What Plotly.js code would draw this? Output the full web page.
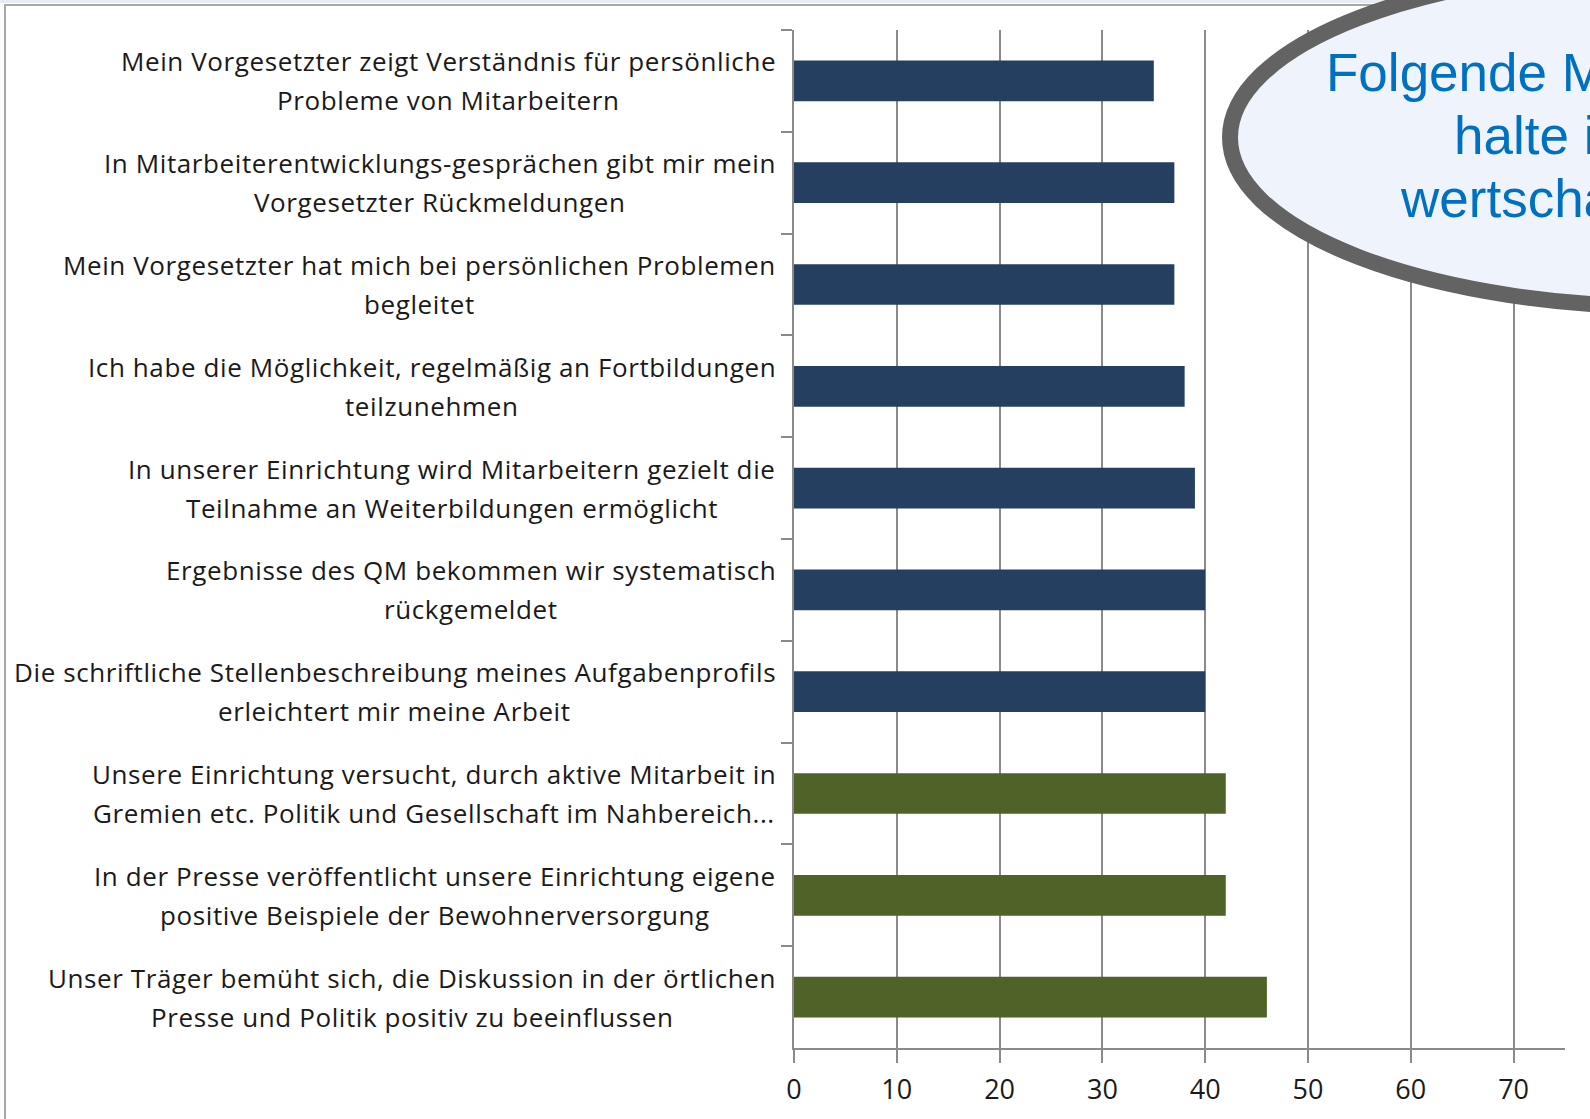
<!DOCTYPE html>
<html><head><meta charset="utf-8">
<script src="https://cdn.plot.ly/plotly-3.0.1.min.js"></script>
<style>html,body{margin:0;padding:0;overflow:hidden;background:#fff}#chart{width:1590px;height:1119px}</style>
</head><body><div id="chart"></div>
<script>
// ---- data ----
const labelLine1 = [
  "Mein Vorgesetzter zeigt Verständnis für persönliche",
  "In Mitarbeiterentwicklungs-gesprächen gibt mir mein",
  "Mein Vorgesetzter hat mich bei persönlichen Problemen",
  "Ich habe die Möglichkeit, regelmäßig an Fortbildungen",
  "In unserer Einrichtung wird Mitarbeitern gezielt die",
  "Ergebnisse des QM bekommen wir systematisch",
  "Die schriftliche Stellenbeschreibung meines Aufgabenprofils",
  "Unsere Einrichtung versucht, durch aktive Mitarbeit in",
  "In der Presse veröffentlicht unsere Einrichtung eigene",
  "Unser Träger bemüht sich, die Diskussion in der örtlichen"
];
const labelLine2 = [
  "Probleme von Mitarbeitern",
  "Vorgesetzter Rückmeldungen",
  "begleitet",
  "teilzunehmen",
  "Teilnahme an Weiterbildungen ermöglicht",
  "rückgemeldet",
  "erleichtert mir meine Arbeit",
  "Gremien etc. Politik und Gesellschaft im Nahbereich...",
  "positive Beispiele der Bewohnerversorgung",
  "Presse und Politik positiv zu beeinflussen"
];
const values = [35, 37, 37, 38, 39, 40, 40, 42, 42, 46];
const groups = ["A","A","A","A","A","A","A","B","B","B"];
const xTicks = [0, 10, 20, 30, 40, 50, 60, 70];
const calloutLines = ["Folgende M", "halte i", "wertscha"];

// ---- styles / layout helpers ----
const groupColor = {A: "#243f60", B: "#4f6228"};
const categories = labelLine1.map((a, i) => a + " " + labelLine2[i]);
const W = 1590, H = 1119, M = {l: 794, r: 25, t: 30, b: 71};
const PW = W - M.l - M.r, PH = H - M.t - M.b;
const px2x = px => (px - M.l) / PW;
const py2y = py => (H - M.b - py) / PH;
const GRAY = "#8a8a8a";
const LABEL_FAMILY = "Open Sans";
const LABEL_FONT = "'Open Sans', 'Noto Sans', sans-serif";
const LABEL_SIZE = 26;
const LETTER_SP = 0.6;
const LABEL_RIGHT = 776;
const LINE_HALF = 19.5;

const ctx = document.createElement("canvas").getContext("2d");
ctx.font = LABEL_SIZE + "px '" + LABEL_FAMILY + "'";
const measure = t => ctx.measureText(t).width + LETTER_SP * t.length;

const annotations = [];
categories.forEach((c, i) => {
  const w = Math.max(measure(labelLine1[i]), measure(labelLine2[i]));
  const cx = LABEL_RIGHT - w / 2;
  [[labelLine1[i], LINE_HALF], [labelLine2[i], -LINE_HALF]].forEach(([t, s]) => {
    annotations.push({
      xref: "paper", yref: "y", x: px2x(cx), y: c, xanchor: "center", yanchor: "middle",
      yshift: s, text: '<span style="letter-spacing:' + LETTER_SP + 'px">' + t + '</span>', showarrow: false,
      font: {family: LABEL_FONT, size: LABEL_SIZE, color: "#1a1a1a"}
    });
  });
});
const calloutLeft = [1324, 1452, 1398];
const calloutMid = [72.5, 135.5, 198.5];
calloutLines.forEach((t, i) => {
  annotations.push({
    xref: "paper", yref: "paper", x: px2x(calloutLeft[i]), y: py2y(calloutMid[i]),
    xanchor: "left", yanchor: "middle", text: t, showarrow: false,
    font: {family: "'Liberation Sans', Arial, sans-serif", size: 53, color: "#0070c0"}
  });
});

const shapes = [
  {type: "rect", xref: "paper", yref: "paper", x0: px2x(-5), x1: px2x(1600), y0: py2y(-5), y1: py2y(3),
   fillcolor: "#e8ecf3", line: {width: 0}, layer: "below"},
  {type: "rect", xref: "paper", yref: "paper", x0: px2x(5), x1: px2x(1620), y0: py2y(5), y1: py2y(1140),
   fillcolor: "rgba(0,0,0,0)", line: {color: "#a8a8a8", width: 2}, layer: "below"},
  {type: "circle", xref: "paper", yref: "paper", x0: px2x(1230), x1: px2x(2114), y0: py2y(-32), y1: py2y(307),
   fillcolor: "#eff3fc", line: {color: "#636363", width: 16}, layer: "above"}
];

const trace = {
  type: "bar", orientation: "h",
  x: values, y: categories,
  marker: {color: groups.map(g => groupColor[g]), line: {width: 0}},
  hoverinfo: "none"
};

const layout = {
  width: W, height: H,
  margin: {l: M.l, r: M.r, t: M.t, b: M.b, pad: 0},
  paper_bgcolor: "#ffffff", plot_bgcolor: "#ffffff",
  showlegend: false, bargap: 0.6,
  xaxis: {
    range: [0, 75], tickvals: xTicks, ticktext: xTicks.map(String),
    ticks: "outside", ticklen: 13, tickwidth: 2, tickcolor: GRAY,
    showline: true, linecolor: GRAY, linewidth: 2,
    showgrid: true, gridcolor: GRAY, gridwidth: 2, zeroline: false,
    ticklabelstandoff: 4,
    tickfont: {family: LABEL_FONT, size: 27, color: "#1a1a1a"}, fixedrange: true
  },
  yaxis: {
    type: "category", autorange: "reversed", showticklabels: false,
    ticks: "outside", tickson: "boundaries", ticklen: 11, tickwidth: 2, tickcolor: GRAY,
    showline: true, linecolor: GRAY, linewidth: 2, showgrid: false, zeroline: false, fixedrange: true
  },
  annotations: annotations,
  shapes: shapes
};

Plotly.newPlot("chart", [trace], layout, {displayModeBar: false, staticPlot: true});
</script>
</body></html>
